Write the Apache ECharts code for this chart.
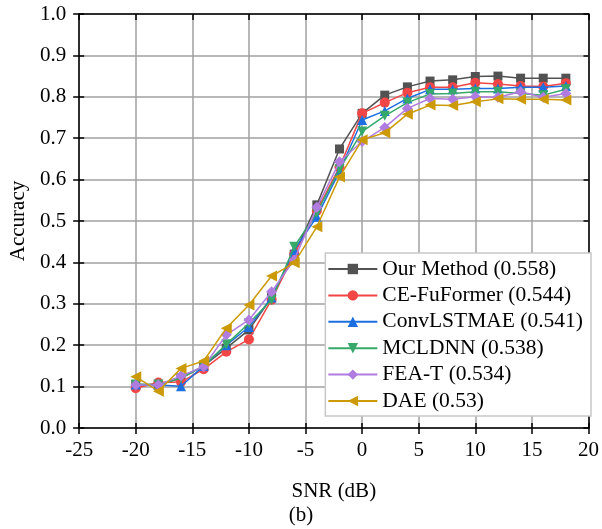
<!DOCTYPE html>
<html><head><meta charset="utf-8">
<script src="https://cdn.jsdelivr.net/npm/echarts@6/dist/echarts.min.js"></script>
<style>html,body{margin:0;padding:0;background:#fff}#c{width:602px;height:529px}</style>
</head><body><div id="c"></div>
<script>
const snr = [-20,-18,-16,-14,-12,-10,-8,-6,-4,-2,0,2,4,6,8,10,12,14,16,18];
const seriesNames = ['Our Method (0.558)','CE-FuFormer (0.544)','ConvLSTMAE (0.541)','MCLDNN (0.538)','FEA-T (0.534)','DAE (0.53)'];
const ourMethod  = [0.105,0.105,0.120,0.150,0.193,0.237,0.315,0.420,0.539,0.674,0.760,0.804,0.824,0.838,0.841,0.849,0.850,0.845,0.845,0.845];
const ceFuFormer = [0.096,0.110,0.111,0.142,0.184,0.214,0.310,0.420,0.525,0.630,0.760,0.786,0.810,0.823,0.823,0.834,0.831,0.826,0.825,0.833];
const convLSTMAE = [0.105,0.104,0.101,0.150,0.200,0.244,0.315,0.430,0.510,0.620,0.744,0.766,0.796,0.818,0.818,0.820,0.820,0.823,0.823,0.826];
const mcldnn     = [0.105,0.105,0.120,0.150,0.202,0.253,0.309,0.438,0.520,0.625,0.716,0.754,0.786,0.807,0.808,0.812,0.812,0.808,0.804,0.818];
const feaT       = [0.104,0.104,0.126,0.148,0.225,0.261,0.329,0.406,0.533,0.643,0.692,0.726,0.772,0.796,0.794,0.800,0.799,0.812,0.799,0.808];
const dae        = [0.124,0.089,0.144,0.162,0.241,0.297,0.367,0.399,0.486,0.606,0.696,0.713,0.758,0.780,0.779,0.788,0.795,0.794,0.794,0.792];

const allData = [ourMethod, ceFuFormer, convLSTMAE, mcldnn, feaT, dae];
const colors = ['#525252','#f24545','#1c6fe0','#35a86a','#b07ce0','#cc9a06'];
const symbols = ['rect','circle','triangle','triangle','diamond','triangle'];
const rotates = [0,0,0,180,0,90];
const sizes = [9,10,10,10,11,11];
const FONT = "'Liberation Serif','Times New Roman',serif";
const FS = 21;
const LFS = 21.5;

const series = allData.map((d,i)=>({
  name: seriesNames[i], type:'line', xAxisIndex:0, yAxisIndex:0,
  data: snr.map((x,j)=>[x,d[j]]),
  symbol: symbols[i], symbolRotate: rotates[i], symbolSize: sizes[i],
  lineStyle:{color:colors[i], width:1.5},
  itemStyle:{color:colors[i]},
  z: 2+i
}));

const baseX = {type:'value', min:-25, max:20, interval:5};
const baseY = {type:'value', min:0, max:1, interval:0.1};
const axisLine = {show:true, onZero:false, lineStyle:{color:'#000', width:1.5}};
const tickStyle = {color:'#000', width:1.5};

const chart = echarts.init(document.getElementById('c'));
chart.setOption({
  animation:false,
  backgroundColor:'#fff',
  grid:{left:73, right:12, top:14, bottom:101, containLabel:false},
  xAxis:[
    Object.assign({}, baseX, {position:'bottom', name:'SNR (dB)', nameLocation:'middle', nameGap:53,
      nameTextStyle:{fontFamily:FONT, fontSize:FS, color:'#000'},
      axisLine:axisLine, axisTick:{show:true, inside:false, length:6, lineStyle:tickStyle},
      axisLabel:{fontFamily:FONT, fontSize:FS, color:'#000', margin:12, formatter:v=>String(v)},
      splitLine:{show:true, lineStyle:{color:'#a0a0a0', width:1.5}}}),
    Object.assign({}, baseX, {position:'bottom', axisLine:{show:false, onZero:false}, axisTick:{show:true, inside:true, length:5, lineStyle:tickStyle},
      axisLabel:{show:false}, splitLine:{show:false}}),
    Object.assign({}, baseX, {position:'top', axisLine:axisLine, axisTick:{show:true, inside:true, length:6, lineStyle:tickStyle},
      axisLabel:{show:false}, splitLine:{show:false}})
  ],
  yAxis:[
    Object.assign({}, baseY, {position:'left', name:'Accuracy', nameLocation:'middle', nameGap:45, nameRotate:90,
      nameTextStyle:{fontFamily:FONT, fontSize:FS, color:'#000'},
      axisLine:axisLine, axisTick:{show:true, inside:false, length:6, lineStyle:tickStyle},
      axisLabel:{fontFamily:FONT, fontSize:FS, color:'#000', margin:13, formatter:v=>v.toFixed(1)},
      splitLine:{show:true, lineStyle:{color:'#a0a0a0', width:1.5}}}),
    Object.assign({}, baseY, {position:'left', axisLine:{show:false, onZero:false}, axisTick:{show:true, inside:true, length:5, lineStyle:tickStyle},
      axisLabel:{show:false}, splitLine:{show:false}}),
    Object.assign({}, baseY, {position:'right', axisLine:axisLine, axisTick:{show:true, inside:true, length:5, lineStyle:tickStyle},
      axisLabel:{show:false}, splitLine:{show:false}})
  ],
  legend:{
    orient:'vertical', right:11, top:253,
    data: seriesNames,
    backgroundColor:'#fff', borderColor:'#c8c8c8', borderWidth:1.5,
    padding:[5,8,4,2], itemGap:4.4, itemWidth:49, itemHeight:13,
    textStyle:{fontFamily:FONT, fontSize:LFS, color:'#000'},
    z:20
  },
  graphic:[{type:'text', left:'center', top:505, style:{text:'(b)', font:FS+"px 'Liberation Serif','Times New Roman',serif", fill:'#000'}}],
  series: series
});
</script></body></html>
